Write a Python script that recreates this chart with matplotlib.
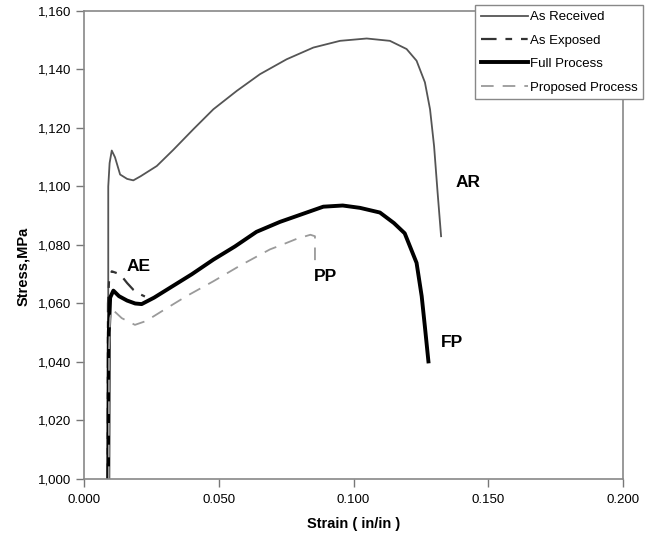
import matplotlib
matplotlib.use("Agg")
import matplotlib.pyplot as plt
from matplotlib.ticker import FuncFormatter

plt.rcParams['font.family'] = ['Liberation Sans', 'DejaVu Sans']

# As Received
ar_strain = [0.0090, 0.0090, 0.0095, 0.0103, 0.0115, 0.0134, 0.0160, 0.0183, 0.0210, 0.0270,
             0.0331, 0.0406, 0.0480, 0.0567, 0.0653, 0.0752, 0.0851, 0.0950, 0.1049, 0.1135,
             0.1197, 0.1234, 0.1265, 0.1284, 0.1299, 0.1312, 0.1325]
ar_stress = [1000, 1100, 1108, 1112.3, 1110, 1104.1, 1102.6, 1102.1, 1103.5, 1107,
             1112.5, 1119.6, 1126.4, 1132.7, 1138.4, 1143.5, 1147.5, 1149.8, 1150.6, 1149.8,
             1147, 1143, 1135.6, 1126.4, 1113.8, 1098, 1083]

# As Exposed
ae_strain = [0.0088, 0.0089, 0.0093, 0.0103, 0.0134, 0.0160, 0.0183, 0.0205, 0.0226]
ae_stress = [1000, 1060, 1068, 1071, 1070, 1067, 1064.7, 1063.3, 1062.4]

# Full Process
fp_strain = [0.0090, 0.0092, 0.0097, 0.0109, 0.0130, 0.0160, 0.0190, 0.0214, 0.0260, 0.0330,
             0.0400, 0.0480, 0.0560, 0.0640, 0.0727, 0.0789, 0.0888, 0.0960, 0.1024, 0.1098,
             0.1150, 0.1190, 0.1234, 0.1253, 0.1265, 0.1278]
fp_stress = [1000, 1050, 1062, 1064.4, 1062.5, 1061, 1060, 1059.8, 1062, 1066,
             1070, 1075, 1079.5, 1084.5, 1087.9, 1089.9, 1093.1, 1093.5, 1092.7, 1091.1,
             1087.5, 1084, 1073.9, 1062.5, 1052, 1040.2]

# Proposed Process
pp_strain = [0.0092, 0.0093, 0.0097, 0.0105, 0.0140, 0.0189, 0.0230, 0.0300, 0.0380, 0.0480,
             0.0580, 0.0690, 0.0727, 0.0789, 0.0840, 0.0857, 0.0857]
pp_stress = [1000, 1045, 1055, 1058, 1055, 1052.7, 1054, 1058, 1062.5, 1067.6,
             1073, 1078.5, 1079.8, 1082.1, 1083.5, 1083, 1074.5]

# curve labels (text, strain, stress)
curve_labels = [("AR", 0.1424, 1101.3), ("AE", 0.0203, 1072.7),
                ("PP", 0.0896, 1069.2), ("FP", 0.1364, 1046.8)]

x_ticks = [0.000, 0.050, 0.100, 0.150, 0.200]
y_ticks = [1000, 1020, 1040, 1060, 1080, 1100, 1120, 1140, 1160]

fig = plt.figure(figsize=(6.51, 5.35), dpi=100)
ax = fig.add_axes([84/651, 56/535, 539/651, 468/535])

ax.plot(ar_strain, ar_stress, color='#555555', lw=1.3, label='As Received')
ax.plot(ae_strain, ae_stress, color='#333333', lw=1.6, dashes=(7, 4, 3, 4, 3, 4), label='As Exposed')
ax.plot(fp_strain, fp_stress, color='black', lw=2.8, label='Full Process')
ax.plot(pp_strain, pp_stress, color='#9a9a9a', lw=1.3, dashes=(7, 5), label='Proposed Process')

for txt, sx, sy in curve_labels:
    ax.text(sx, sy, txt, fontsize=12.5, fontweight='bold', ha='center', va='center')

ax.set_xlim(0, 0.2)
ax.set_ylim(1000, 1160)
ax.set_xticks(x_ticks)
ax.set_yticks(y_ticks)
ax.xaxis.set_major_formatter(FuncFormatter(lambda v, p: "%.3f" % v))
ax.yaxis.set_major_formatter(FuncFormatter(lambda v, p: "{:,.0f}".format(v)))
ax.tick_params(direction='out', length=6, width=1, color='#777777', labelsize=9.5, pad=3)
ax.tick_params(axis='x', pad=5)

for s in ax.spines.values():
    s.set_color('#888888')
    s.set_linewidth(1.2)

ax.set_xlabel("Strain ( in/in )", fontsize=10.5, fontweight='bold', va='center')
ax.set_ylabel("Stress,MPa", fontsize=10.5, fontweight='bold')
ax.xaxis.set_label_coords(0.5, -0.097)
ax.yaxis.set_label_coords(-0.10, 0.455)

leg = ax.legend(loc='upper left', bbox_to_anchor=(475/651, 530/535), bbox_transform=fig.transFigure,
                borderaxespad=0, fontsize=9.5, handlelength=3.6, handletextpad=0.1,
                labelspacing=0.85, borderpad=0.45, fancybox=False, framealpha=1)
leg.get_frame().set_edgecolor('#888888')
leg.get_frame().set_linewidth(1.0)

plt.savefig("out.png", dpi=100)
